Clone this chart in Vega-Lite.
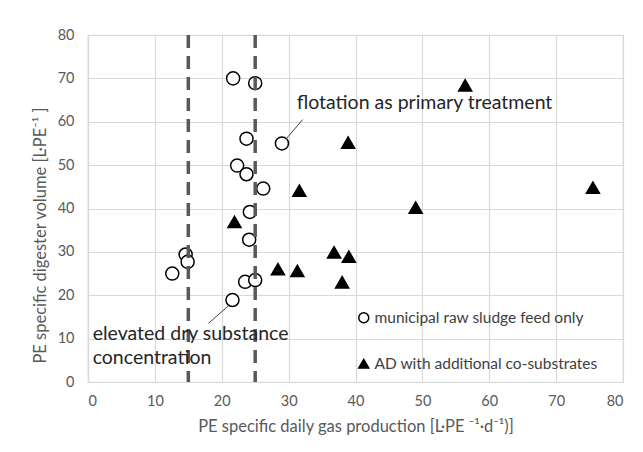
{
  "$schema": "https://vega.github.io/schema/vega-lite/v6.json",
  "width": 535,
  "height": 347,
  "autosize": "none",
  "padding": {"left": 88, "top": 35, "right": 20, "bottom": 70},
  "background": "white",
  "config": {
    "font": "Lato",
    "view": {"stroke": "#d9d9d9", "strokeWidth": 1.2},
    "axis": {
      "grid": true,
      "gridColor": "#d9d9d9",
      "gridWidth": 1.2,
      "domainColor": "#d9d9d9",
      "domainWidth": 1.2,
      "ticks": false,
      "labelFont": "Lato",
      "labelFontSize": 14.5,
      "labelColor": "#595959",
      "titleFont": "Lato",
      "titleFontSize": 16.5,
      "titleFontWeight": "normal",
      "titleColor": "#595959"
    }
  },
  "datasets": {
    "points": [
      {"gas": 21.7, "vol": 70.0, "group": "municipal raw sludge feed only"},
      {"gas": 25.0, "vol": 68.9, "group": "municipal raw sludge feed only"},
      {"gas": 29.0, "vol": 55.0, "group": "municipal raw sludge feed only"},
      {"gas": 23.7, "vol": 56.1, "group": "municipal raw sludge feed only"},
      {"gas": 22.3, "vol": 49.9, "group": "municipal raw sludge feed only"},
      {"gas": 23.7, "vol": 47.9, "group": "municipal raw sludge feed only"},
      {"gas": 26.2, "vol": 44.6, "group": "municipal raw sludge feed only"},
      {"gas": 24.2, "vol": 39.2, "group": "municipal raw sludge feed only"},
      {"gas": 24.1, "vol": 32.8, "group": "municipal raw sludge feed only"},
      {"gas": 14.6, "vol": 29.4, "group": "municipal raw sludge feed only"},
      {"gas": 14.9, "vol": 27.7, "group": "municipal raw sludge feed only"},
      {"gas": 12.6, "vol": 25.0, "group": "municipal raw sludge feed only"},
      {"gas": 23.5, "vol": 23.1, "group": "municipal raw sludge feed only"},
      {"gas": 25.0, "vol": 23.5, "group": "municipal raw sludge feed only"},
      {"gas": 21.6, "vol": 18.9, "group": "municipal raw sludge feed only"},
      {"gas": 56.4, "vol": 68.4, "group": "AD with additional co-substrates"},
      {"gas": 38.9, "vol": 55.2, "group": "AD with additional co-substrates"},
      {"gas": 31.6, "vol": 44.1, "group": "AD with additional co-substrates"},
      {"gas": 75.5, "vol": 44.8, "group": "AD with additional co-substrates"},
      {"gas": 49.0, "vol": 40.2, "group": "AD with additional co-substrates"},
      {"gas": 21.9, "vol": 36.9, "group": "AD with additional co-substrates"},
      {"gas": 36.8, "vol": 29.9, "group": "AD with additional co-substrates"},
      {"gas": 39.0, "vol": 28.9, "group": "AD with additional co-substrates"},
      {"gas": 28.4, "vol": 26.0, "group": "AD with additional co-substrates"},
      {"gas": 31.3, "vol": 25.6, "group": "AD with additional co-substrates"},
      {"gas": 38.0, "vol": 23.0, "group": "AD with additional co-substrates"}
    ],
    "limits": [{"gas": 15}, {"gas": 25}],
    "leaders": [
      {"gas": 29.6, "vol": 56.0, "gas2": 32.1, "vol2": 60.5},
      {"gas": 18.0, "vol": 13.5, "gas2": 21.1, "vol2": 17.7}
    ],
    "notes": [
      {"gas": 31.2, "vol": 64.3, "label": "flotation as primary treatment"},
      {"gas": 0.7, "vol": 11.1, "label": "elevated dry substance"},
      {"gas": 0.7, "vol": 5.6, "label": "concentration"}
    ]
  },
  "layer": [
    {
      "data": {"name": "points"},
      "mark": {"type": "point", "filled": false, "strokeWidth": 1.5, "size": 170, "opacity": 1},
      "encoding": {
        "x": {
          "field": "gas", "type": "quantitative",
          "scale": {"domain": [0, 80], "nice": false},
          "axis": {"values": [0, 10, 20, 30, 40, 50, 60, 70, 80], "labelPadding": 12, "titlePadding": 11,
                   "title": "PE specific daily gas production [L·PE ⁻¹·d⁻¹)]"}
        },
        "y": {
          "field": "vol", "type": "quantitative",
          "scale": {"domain": [0, 80], "nice": false},
          "axis": {"values": [0, 10, 20, 30, 40, 50, 60, 70, 80], "labelPadding": 14, "titlePadding": 9,
                   "titleY": 200, "titleAlign": "center",
                   "title": "PE specific digester volume [L·PE⁻¹ ]"}
        },
        "shape": {
          "field": "group", "type": "nominal",
          "scale": {"domain": ["municipal raw sludge feed only", "AD with additional co-substrates"], "range": ["circle", "triangle-up"]},
          "legend": {
            "title": null, "orient": "none", "legendX": 268, "legendY": 275,
            "padding": 0, "rowPadding": 29, "labelFontSize": 15.5, "labelColor": "#404040",
            "labelFont": "Lato", "labelLimit": 400, "symbolSize": 100, "labelOffset": 3,
            "encode": {"symbols": {"update": {"stroke": {"value": "black"}, "strokeWidth": {"value": 1.5}}}}
          }
        },
        "fill": {
          "field": "group", "type": "nominal",
          "scale": {"domain": ["municipal raw sludge feed only", "AD with additional co-substrates"], "range": ["white", "black"]},
          "legend": null
        },
        "stroke": {"value": "black"}
      }
    },
    {
      "data": {"name": "limits"},
      "mark": {"type": "rule", "color": "#595959", "strokeWidth": 3.5, "strokeDash": [13, 8]},
      "encoding": {"x": {"field": "gas", "type": "quantitative"}}
    },
    {
      "data": {"name": "leaders"},
      "mark": {"type": "rule", "color": "#404040", "strokeWidth": 1},
      "encoding": {
        "x": {"field": "gas", "type": "quantitative"},
        "y": {"field": "vol", "type": "quantitative"},
        "x2": {"field": "gas2"},
        "y2": {"field": "vol2"}
      }
    },
    {
      "data": {"name": "notes"},
      "mark": {"type": "text", "align": "left", "baseline": "middle", "fontSize": 19.5, "font": "Lato", "color": "#262626"},
      "encoding": {
        "x": {"field": "gas", "type": "quantitative"},
        "y": {"field": "vol", "type": "quantitative"},
        "text": {"field": "label"}
      }
    }
  ]
}
